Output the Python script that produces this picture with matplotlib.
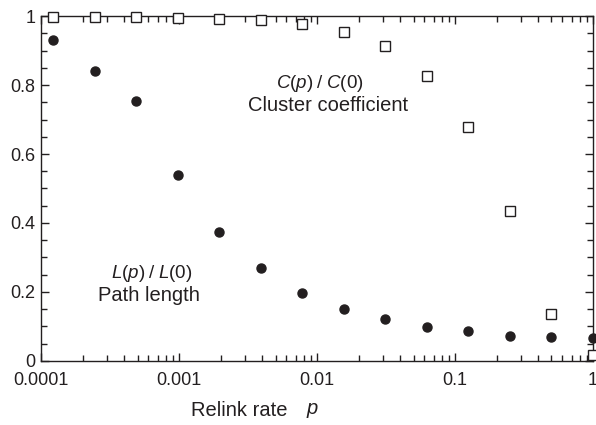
import numpy as np
import matplotlib
matplotlib.use("Agg")
import matplotlib.pyplot as plt
from matplotlib.ticker import FixedLocator, MultipleLocator, NullFormatter, LogLocator

plt.rcParams["font.family"] = ["Liberation Sans", "DejaVu Sans"]
plt.rcParams["mathtext.fontset"] = "custom"
plt.rcParams["mathtext.it"] = "Liberation Sans:italic"
plt.rcParams["mathtext.rm"] = "Liberation Sans"

# relink rate p = 2^-k, k = 13..0
p = [2.0 ** -k for k in range(13, -1, -1)]
path_length = [0.93, 0.84, 0.755, 0.54, 0.375, 0.27, 0.197, 0.15, 0.12,
               0.098, 0.086, 0.072, 0.068, 0.065]
cluster_coef = [0.998, 0.998, 0.997, 0.995, 0.993, 0.99, 0.978, 0.955,
                0.912, 0.827, 0.678, 0.435, 0.137, 0.018]

x_ticks = [0.0001, 0.001, 0.01, 0.1, 1]
x_ticklabels = ["0.0001", "0.001", "0.01", "0.1", "1"]
y_ticks = [0, 0.2, 0.4, 0.6, 0.8, 1]
y_ticklabels = ["0", "0.2", "0.4", "0.6", "0.8", "1"]

ink = "#231f20"

fig = plt.figure(figsize=(5.96, 4.25), dpi=100)
ax = fig.add_axes([0.069, 0.151, 0.926, 0.811])

ax.plot(p, cluster_coef, linestyle="none", marker="s", markersize=7.8,
        markerfacecolor="white", markeredgecolor=ink, markeredgewidth=1.0,
        clip_on=False, zorder=3)
ax.plot(p, path_length, linestyle="none", marker="o", markersize=6.5,
        color=ink, clip_on=False, zorder=3)

ax.set_xscale("log")
ax.set_xlim(0.0001, 1)
ax.set_ylim(0, 1)

ax.xaxis.set_major_locator(FixedLocator(x_ticks))
ax.set_xticklabels(x_ticklabels)
ax.xaxis.set_minor_locator(LogLocator(base=10, subs=np.arange(2, 10)))
ax.xaxis.set_minor_formatter(NullFormatter())
ax.set_yticks(y_ticks)
ax.set_yticklabels(y_ticklabels)
ax.yaxis.set_minor_locator(MultipleLocator(0.05))

ax.tick_params(which="both", direction="in", top=True, right=True,
               labelsize=13, colors=ink, width=1.0)
ax.tick_params(which="major", length=6)
ax.tick_params(which="minor", length=4)
ax.tick_params(axis="x", pad=8)
ax.tick_params(axis="y", pad=4)
for s in ax.spines.values():
    s.set_color(ink)
    s.set_linewidth(1.0)

ax.text(0.505, 0.806, r"$C(p)\;/\;C(0)$", transform=ax.transAxes, ha="center",
        va="center", fontsize=13.5, color=ink)
ax.text(0.52, 0.74, "Cluster coefficient", transform=ax.transAxes,
        ha="center", va="center", fontsize=14.5, color=ink)
ax.text(0.2, 0.252, r"$L(p)\;/\;L(0)$", transform=ax.transAxes, ha="center",
        va="center", fontsize=13.5, color=ink)
ax.text(0.195, 0.19, "Path length", transform=ax.transAxes, ha="center",
        va="center", fontsize=14.5, color=ink)

fig.text(0.402, 0.034, "Relink rate", ha="center", va="center",
         fontsize=14.5, color=ink)
fig.text(0.525, 0.034, r"$p$", ha="center", va="center", fontsize=14.5,
         color=ink)

fig.savefig("out.png", dpi=100)
